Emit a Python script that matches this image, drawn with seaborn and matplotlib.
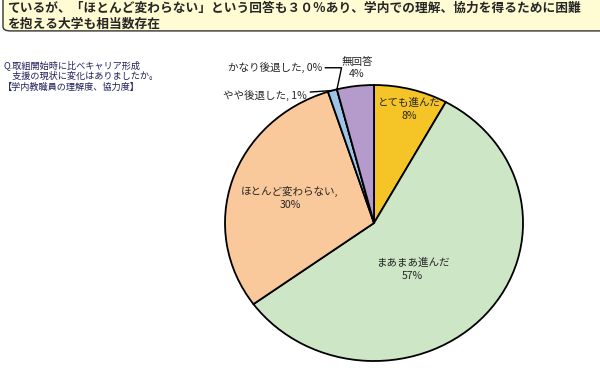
import matplotlib
matplotlib.use("Agg")
import matplotlib.pyplot as plt
from matplotlib.patches import FancyBboxPatch
import numpy as np
import seaborn as sns

# data
categories = ["とても進んだ", "まあまあ進んだ", "ほとんど変わらない", "やや後退した", "かなり後退した", "無回答"]
values = [8, 57, 30, 1, 0, 4]
colors = ["#F5C527", "#CCE6C6", "#F9C89B", "#9DC3E6", "#5B8BC9", "#B59BCB"]

header_lines = [
    "ているが、「ほとんど変わらない」という回答も３０％あり、学内での理解、協力を得るために困難",
    "を抱える大学も相当数存在",
]
question = "Q.取組開始時に比べキャリア形成\n　支援の現状に変化はありましたか。\n【学内教職員の理解度、協力度】"

sns.set_theme(style="white")
plt.rcParams["font.family"] = ["Noto Sans CJK JP", "DejaVu Sans"]

fig = plt.figure(figsize=(6, 3.68), dpi=100)

# header box (top cut off)
box = FancyBboxPatch((0.005, 0.916), 1.1, 0.2, boxstyle="round,pad=0,rounding_size=0.012",
                     transform=fig.transFigure, facecolor="#FFFBD2", edgecolor="#333333",
                     linewidth=1.0, clip_on=False)
fig.patches.append(box)
fig.text(0.012, 0.978, header_lines[0], fontsize=9.15, fontweight="bold", va="center", ha="left")
fig.text(0.012, 0.935, header_lines[1], fontsize=9.15, fontweight="bold", va="center", ha="left")

fig.text(0.005, 0.835, question, fontsize=6.6, color="#1E1E5A", va="top", ha="left", linespacing=1.2)

# pie
ax = fig.add_axes([0.375, 0.019, 0.4967, 0.75])
palette = sns.color_palette(colors)
wedges, _ = ax.pie(values, colors=palette, startangle=90, counterclock=False,
                   wedgeprops=dict(edgecolor="black", linewidth=1.3))
ax.set_aspect("auto")
ax.set_xlim(-1, 1)
ax.set_ylim(-1, 1)
ax.axis("off")

lab_fs = 7.6
ax.text(0.235, 0.826, f"{categories[0]}\n{values[0]}%", ha="center", va="center", fontsize=lab_fs, linespacing=1.35)
ax.text(0.26, -0.333, f"{categories[1]}\n{values[1]}%", ha="center", va="center", fontsize=lab_fs, linespacing=1.35)
ax.text(-0.564, 0.18, f"{categories[2]},\n{values[2]}%", ha="center", va="center", fontsize=lab_fs, linespacing=1.35)
ax.text(-0.114, 1.123, f"{categories[5]}\n{values[5]}%", ha="center", va="center", fontsize=lab_fs, linespacing=1.35,
        clip_on=False)


def edge_point(w):
    mid = np.deg2rad((w.theta1 + w.theta2) / 2)
    return np.cos(mid), np.sin(mid)


ax.annotate(f"{categories[3]}, {values[3]}%", xy=edge_point(wedges[3]), xytext=(-0.45, 0.926),
            ha="right", va="center", fontsize=lab_fs, annotation_clip=False,
            arrowprops=dict(arrowstyle="-", color="black", lw=1.0, shrinkA=0, shrinkB=0))
ax.annotate(f"{categories[4]}, {values[4]}%", xy=edge_point(wedges[4]), xytext=(-0.35, 1.125),
            ha="right", va="center", fontsize=lab_fs, annotation_clip=False,
            arrowprops=dict(arrowstyle="-", color="black", lw=1.0, shrinkA=0, shrinkB=0,
                            connectionstyle="angle,angleA=0,angleB=78,rad=0"))

fig.savefig("out.png", dpi=100)
